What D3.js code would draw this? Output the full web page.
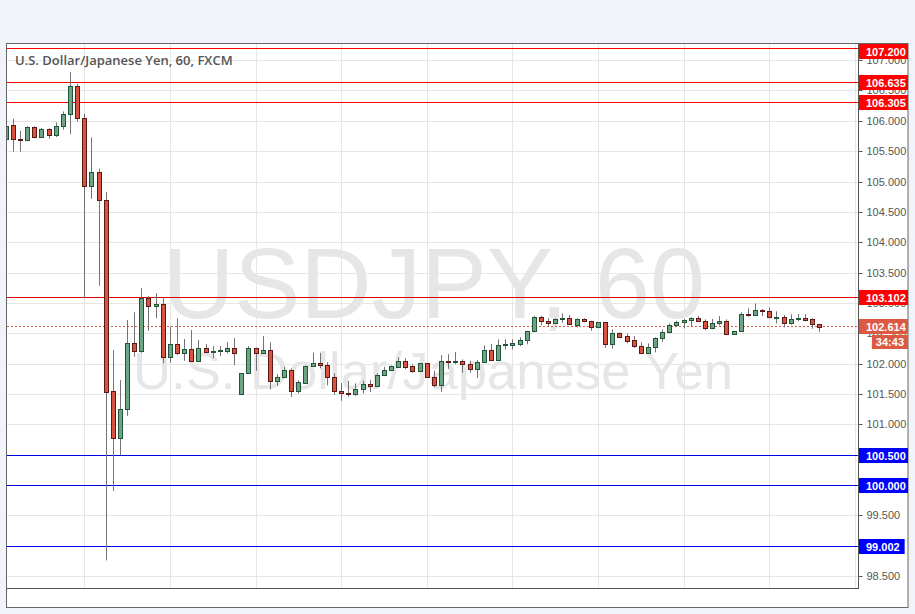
<!DOCTYPE html>
<html><head><meta charset="utf-8">
<script src="https://cdn.jsdelivr.net/npm/d3@7"></script>
<style>
html,body{margin:0;padding:0;background:#f0f3f7;}
svg{display:block;}
</style>
</head><body>
<svg id="chart" width="915" height="614"></svg>
<script>
// ---------- DATA ----------
const title = "U.S. Dollar/Japanese Yen, 60, FXCM";
const watermarkMain = "USDJPY, 60";
const watermarkSub = "U.S. Dollar/Japanese Yen";
// hourly bars; first bar is 11 hours before 24 00:00
const firstBarIndex = -11;
const opens = [105.713,105.939,105.713,105.688,105.903,105.746,105.870,105.771,105.923,106.121,106.583,
106.055,104.942,105.164,104.702,101.555,100.791,101.253,102.342,102.210,103.085,102.953,102.990,102.121,102.326,102.187,102.243,102.055,102.260,102.207,102.227,102.220,102.264,
101.501,101.847,102.264,102.187,102.231,101.725,101.781,101.901,101.560,101.692,101.967,102.012,101.979,101.791,101.550,101.517,101.501,101.583,101.670,101.642,101.814,101.897,101.956,102.045,101.967,101.880,102.012,101.791,101.649,102.050,102.038,102.045,101.996,101.923,102.029,102.227,102.071,102.309,102.319,102.335,102.391,102.540,102.771,102.705,102.672,102.738,102.755,102.644,102.738,102.705,102.606,102.689,102.326,102.507,102.462,102.396,102.302,102.177,102.276,102.425,102.524,102.639,102.689,102.722,102.755,102.705,102.590,102.672,102.705,102.491,102.540,102.821,102.804,102.887,102.870,102.771,102.771,102.672,102.738,102.755,102.738,102.656];
const highs = [106.027,106.043,105.845,105.919,105.919,105.890,105.886,105.982,106.163,106.814,106.620,
106.125,105.734,105.218,104.838,102.231,101.736,102.726,102.854,103.250,103.122,103.167,103.101,102.616,102.755,102.413,102.561,102.396,102.330,102.297,102.297,102.363,102.429,
101.850,102.297,102.270,102.462,102.359,101.835,101.956,101.930,101.736,101.978,102.187,102.187,102.033,101.847,101.692,101.725,101.682,101.725,101.736,101.847,101.956,101.979,102.111,102.095,101.996,102.017,102.020,101.890,102.149,102.165,102.198,102.078,102.055,102.066,102.309,102.330,102.408,102.408,102.408,102.441,102.550,102.797,102.797,102.755,102.755,102.837,102.809,102.755,102.755,102.715,102.692,102.692,102.573,102.524,102.507,102.462,102.359,102.342,102.441,102.573,102.672,102.715,102.743,102.771,102.792,102.738,102.743,102.792,102.738,102.545,102.854,102.920,103.002,102.908,102.936,102.870,102.809,102.821,102.825,102.825,102.755,102.660];
const lows = [105.499,105.499,105.499,105.672,105.721,105.725,105.713,105.741,105.861,105.784,105.998,
103.085,104.723,103.292,98.766,99.910,100.499,101.147,102.121,102.187,102.550,102.755,102.012,102.022,102.149,102.055,102.050,102.050,102.177,102.095,102.132,102.177,101.984,
101.495,101.840,101.890,102.165,101.583,101.637,101.765,101.461,101.517,101.690,101.956,101.930,101.649,101.494,101.395,101.461,101.477,101.517,101.538,101.638,101.802,101.890,101.950,101.918,101.857,101.875,101.786,101.616,101.543,101.923,102.000,101.857,101.857,101.769,102.025,102.065,102.065,102.243,102.243,102.297,102.326,102.524,102.639,102.627,102.656,102.682,102.644,102.606,102.689,102.550,102.590,102.269,102.253,102.434,102.342,102.269,102.172,102.172,102.194,102.368,102.507,102.616,102.590,102.627,102.693,102.561,102.573,102.639,102.479,102.485,102.535,102.781,102.792,102.792,102.755,102.672,102.606,102.649,102.705,102.705,102.583,102.533];
const closes = [105.928,105.708,105.688,105.903,105.746,105.878,105.771,105.916,106.121,106.583,106.055,
104.942,105.164,104.702,101.543,100.791,101.253,102.342,102.210,103.085,102.953,102.990,102.121,102.326,102.187,102.243,102.055,102.260,102.203,102.223,102.231,102.264,102.187,
101.847,102.264,102.187,102.231,101.725,101.781,101.901,101.560,101.703,101.967,102.012,101.979,101.791,101.550,101.517,101.501,101.583,101.670,101.642,101.814,101.901,101.967,102.045,101.956,101.880,102.012,101.791,101.649,102.045,102.038,102.045,101.996,101.923,102.029,102.227,102.071,102.309,102.330,102.352,102.396,102.540,102.776,102.705,102.672,102.738,102.755,102.656,102.738,102.705,102.606,102.689,102.326,102.507,102.451,102.385,102.302,102.177,102.276,102.425,102.524,102.639,102.689,102.722,102.755,102.705,102.590,102.672,102.705,102.491,102.540,102.821,102.804,102.887,102.870,102.771,102.773,102.672,102.738,102.755,102.731,102.656,102.614];
const timeLabels = ["24","12:00","27","12:00","28","12:00","29","12:00","30","12:00"];
const timeLabelBold = [false,false,true,false,false,false,false,false,false,false];
const barsPerLabel = 12;
const priceTicks = [98.5,99,99.5,100,100.5,101,101.5,102,102.5,103,103.5,104,104.5,105,105.5,106,106.5,107];
const levelValues = [107.200,106.635,106.305,103.102,100.500,100.000,99.002];
const lastPrice = 102.614;
const countdown = "34:43";

// ---------- STYLE ----------
const levelColors = ["#ff0000","#ff0000","#ff0000","#e00000","#0000e0","#0000e0","#0000ff"];
const labelBoxColors = ["#ff0000","#ff0000","#ff0000","#ff0000","#0000ff","#0000ff","#0000ff"];
const up = {fill:"#6ba583", stroke:"#225437"};
const down = {fill:"#d75442", stroke:"#5b1a13"};
const wickColor = "#737375";
const lastColor = "#dc5a43";
const textColor = "#555";
const axisFont = "Liberation Sans, Arial, sans-serif";

const plot = {left:7, right:858, top:44, bottom:588};

const svg = d3.select("#chart");

// scales
const x = d3.scaleLinear().domain([-10.83, 108.44]).range([plot.left, plot.right]);
const y = d3.scaleLinear().domain([98.312, 107.282]).range([plot.bottom, 43.5]);
const py = v => Math.floor(y(v)) + 0.5;

// frame
svg.append("rect").attr("x",6.5).attr("y",43.5).attr("width",901.5).attr("height",564)
  .attr("fill","#fff").attr("stroke","#666").attr("stroke-width",1);

const defs = svg.append("defs");
defs.append("clipPath").attr("id","plotClip").append("rect")
  .attr("x",plot.left).attr("y",plot.top).attr("width",plot.right-plot.left).attr("height",plot.bottom-plot.top);
defs.append("clipPath").attr("id","xLabClip").append("rect")
  .attr("x",plot.left).attr("y",plot.bottom).attr("width",plot.right-plot.left+0.5).attr("height",20);

const g = svg.append("g").attr("clip-path","url(#plotClip)");

// watermark
g.append("text").attr("x",163).attr("y",318).attr("font-family",axisFont).attr("font-size",100)
  .attr("fill","#e6e6e6").attr("textLength",542).attr("lengthAdjust","spacingAndGlyphs").text(watermarkMain);
g.append("text").attr("x",133).attr("y",389).attr("font-family",axisFont).attr("font-size",52)
  .attr("fill","#e6e6e6").attr("textLength",600).attr("lengthAdjust","spacingAndGlyphs").text(watermarkSub);

// grid
const tickIdx = timeLabels.map((d,i)=>i*barsPerLabel);
g.selectAll("line.hg").data(priceTicks).join("line").attr("class","hg")
  .attr("x1",plot.left).attr("x2",plot.right)
  .attr("y1",d=>py(d)).attr("y2",d=>py(d))
  .attr("stroke","#e6e6e6");
g.selectAll("line.vg").data(tickIdx).join("line").attr("class","vg")
  .attr("y1",plot.top).attr("y2",plot.bottom)
  .attr("x1",d=>Math.round(x(d))+0.5).attr("x2",d=>Math.round(x(d))+0.5)
  .attr("stroke","#e6e6e6");

// level lines
g.selectAll("line.lvl").data(levelValues).join("line").attr("class","lvl")
  .attr("x1",plot.left).attr("x2",plot.right)
  .attr("y1",d=>py(d)).attr("y2",d=>py(d))
  .attr("stroke",(d,i)=>levelColors[i]).attr("stroke-width",1);

// last price dotted line
g.append("line").attr("x1",plot.left).attr("x2",plot.right)
  .attr("y1",py(lastPrice)).attr("y2",py(lastPrice))
  .attr("stroke",lastColor).attr("stroke-dasharray","2,2");

// candles
const bars = opens.map((o,i)=>({i:firstBarIndex+i,o,h:highs[i],l:lows[i],c:closes[i]}));
const cg = g.append("g");
bars.forEach(b=>{
  const cx = Math.round(x(b.i));
  const isUp = b.c >= b.o;
  const st = isUp ? up : down;
  cg.append("line").attr("x1",cx+0.5).attr("x2",cx+0.5)
    .attr("y1",y(b.h)).attr("y2",y(b.l)).attr("stroke",wickColor).attr("stroke-width",1);
  const top = Math.round(y(Math.max(b.o,b.c)));
  const bot = Math.round(y(Math.min(b.o,b.c)));
  const hgt = Math.max(1, bot-top);
  cg.append("rect").attr("x",cx-2+0.5).attr("y",top+0.5).attr("width",4).attr("height",hgt)
    .attr("fill",st.fill).attr("stroke",st.stroke).attr("stroke-width",1);
});

// axes
const yAxis = d3.axisRight(y).tickValues(priceTicks).tickFormat(d3.format(".3f")).tickSize(4).tickSizeOuter(0).tickPadding(4);
const ya = svg.append("g").attr("transform",`translate(${plot.right+0.5},0)`).call(yAxis);
ya.select(".domain").remove();
ya.selectAll(".tick").attr("transform",d=>`translate(0,${py(d)})`);
ya.selectAll("line").attr("stroke","#555");
ya.selectAll("text").attr("font-family",axisFont).attr("font-size",11).attr("fill",textColor);

const xAxis = d3.axisBottom(x).tickValues(tickIdx).tickFormat((d,i)=>timeLabels[i]).tickSize(4).tickSizeOuter(0).tickPadding(2);
const xa = svg.append("g").attr("transform",`translate(0,${plot.bottom+0.5})`).attr("clip-path","url(#xLabClip)").call(xAxis);
xa.select(".domain").remove();
xa.selectAll(".tick").attr("transform",d=>`translate(${Math.round(x(d))+0.5},0)`);
xa.selectAll("line").attr("stroke","#555");
xa.selectAll("text").attr("font-family",axisFont).attr("font-size",11).attr("fill",textColor)
  .attr("font-weight",(d,i)=>timeLabelBold[i]?"bold":"normal");

// axis lines
svg.append("line").attr("x1",plot.right+0.5).attr("x2",plot.right+0.5).attr("y1",plot.top).attr("y2",plot.bottom+1).attr("stroke","#555");
svg.append("line").attr("x1",plot.left).attr("x2",plot.right+1).attr("y1",plot.bottom+0.5).attr("y2",plot.bottom+0.5).attr("stroke","#555");

// level label boxes
function labelBox(val, color, text){
  const cy = Math.floor(y(val));
  const bh = 15;
  let top = cy - 7;
  if (top < 44) top = 44;
  const grp = svg.append("g");
  const rect = grp.append("rect");
  const t = grp.append("text").attr("font-family",axisFont).attr("font-size",11).attr("font-weight","bold")
    .attr("fill","#fff").attr("y",top+11.5).text(text);
  const tw = t.node().getComputedTextLength();
  const bx = plot.right+1;
  t.attr("x",866);
  const bw = Math.min(908-bx, 866+tw+5-bx);
  rect.attr("x",bx).attr("y",top).attr("width",bw).attr("height",bh).attr("fill",color);
  return top+bh;
}
levelValues.forEach((v,i)=>labelBox(v,labelBoxColors[i],d3.format(".3f")(v)));
const lb = labelBox(lastPrice,lastColor,d3.format(".3f")(lastPrice));
// countdown box
(function(){
  const top = lb+1;
  const grp = svg.append("g");
  const rect = grp.append("rect");
  const t = grp.append("text").attr("font-family",axisFont).attr("font-size",11).attr("font-weight","bold")
    .attr("fill","#fff").attr("y",top+11).text(countdown);
  const tw = t.node().getComputedTextLength();
  const bw = tw+8, bx = 908-bw;
  t.attr("x",bx+4);
  rect.attr("x",bx).attr("y",top).attr("width",bw).attr("height",14).attr("fill",lastColor);
})();

// title
svg.append("text").attr("x",15).attr("y",65).attr("font-family","Open Sans, sans-serif").attr("font-size",13)
  .attr("font-weight",600).attr("fill","#555").text(title);
</script>
</body></html>
